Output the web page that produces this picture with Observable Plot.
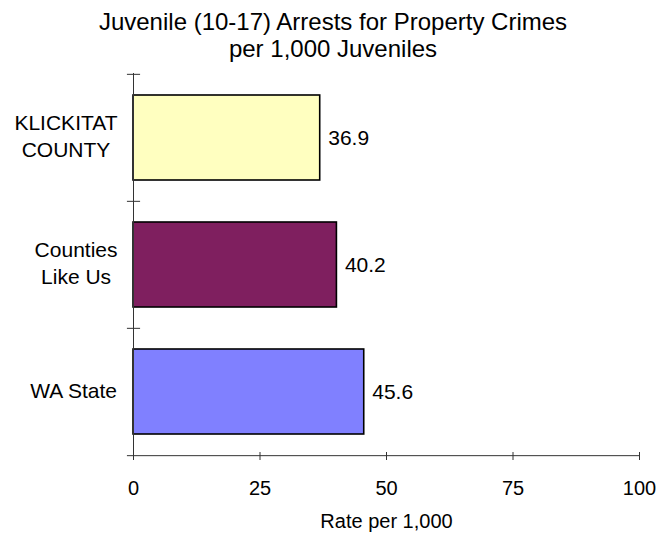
<!DOCTYPE html>
<html>
<head>
<meta charset="utf-8">
<script src="https://cdn.jsdelivr.net/npm/d3@7"></script>
<script src="https://cdn.jsdelivr.net/npm/@observablehq/plot@0.6"></script>
<style>
  body { margin: 0; background: #fff; font-family: "Liberation Sans", Arial, sans-serif; }
  #title { box-sizing: border-box; width: 658px; height: 65px; padding-top: 8px; padding-left: 8px;
           text-align: center; font-size: 24px; line-height: 27px; color: #000; white-space: nowrap; }
</style>
</head>
<body>
<div id="title"></div>
<div id="chart"></div>
<script>
const categories = ["KLICKITAT COUNTY", "Counties Like Us", "WA State"];
const categoryLines = [["KLICKITAT", "COUNTY"], ["Counties", "Like Us"], ["WA State"]];
const values = [36.9, 40.2, 45.6];
const barColors = ["#FFFFC0", "#7F1F5F", "#8080FF"];
const xTicks = [0, 25, 50, 75, 100];
const titleLines = ["Juvenile (10-17) Arrests for Property Crimes", "per 1,000 Juveniles"];
const xLabel = "Rate per 1,000";

const data = categories.map((c, i) => ({category: c, value: values[i]}));

document.getElementById("title").innerHTML = titleLines.join("<br>");

const W = 658, H = 468, mt = 8, mb = 78, ml = 133, mr = 19;
const LABEL_FONT = 21, TICK_FONT = 20;
const bw = (H - mt - mb) / categories.length;

const ctx = document.createElement("canvas").getContext("2d");
ctx.font = `${LABEL_FONT}px "Liberation Sans"`;
const labelOf = new Map(categories.map((c, i) => [c, categoryLines[i]]));
const widthOf = c => Math.max(...labelOf.get(c).map(s => ctx.measureText(s).width));

const yLabelMarks = categories.map(c => Plot.axisY([c], {
  anchor: "left", tickSize: 0, tickPadding: 16, textAnchor: "middle",
  dx: -widthOf(c) / 2, dy: -3, lineHeight: 1.3, fontSize: LABEL_FONT, fill: "#000",
  tickFormat: d => labelOf.get(d).join("\n"), label: null
}));

const chart = Plot.plot({
  width: W, height: H,
  marginTop: mt, marginBottom: mb, marginLeft: ml, marginRight: mr,
  style: {fontFamily: '"Liberation Sans", Arial, sans-serif', fontSize: TICK_FONT + "px", color: "#000", background: "#fff"},
  x: {domain: [0, 100], ticks: xTicks, label: xLabel, labelAnchor: "center", labelArrow: "none"},
  y: {domain: categories, padding: 0, axis: null},
  color: {domain: categories, range: barColors},
  marks: [
    Plot.barX(data, {x: "value", y: "category", fill: "category", stroke: "#000", strokeWidth: 1.6, insetTop: 21, insetBottom: 21}),
    Plot.ruleX([0], {stroke: "#333", strokeWidth: 1}),
    Plot.ruleY(categories, {y: d => d, x1: -1.2, x2: 1.4, dy: -bw / 2, stroke: "#333", strokeWidth: 1}),
    Plot.ruleY([categories[categories.length - 1]], {y: d => d, x1: -1.2, x2: 100, dy: bw / 2, stroke: "#333", strokeWidth: 1}),
    Plot.axisX({ticks: xTicks, tickSize: 8, dy: -3, tickPadding: 20, fontSize: TICK_FONT, stroke: "#333", fill: "#000",
                label: xLabel, labelAnchor: "center", labelArrow: "none", labelOffset: 72}),
    ...yLabelMarks,
    Plot.text(data, {x: "value", y: "category", text: d => d.value.toFixed(1), textAnchor: "start", dx: 8, fontSize: LABEL_FONT, fill: "#000"})
  ]
});
document.getElementById("chart").appendChild(chart);
</script>
</body>
</html>
